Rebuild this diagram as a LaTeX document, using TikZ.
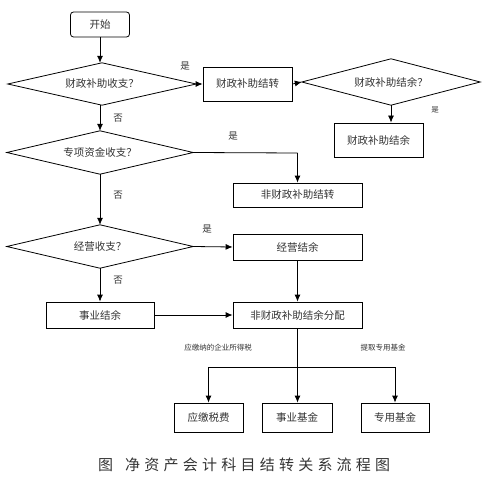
\documentclass[tikz,border=0pt]{standalone}
\usepackage{fontspec}
\setmainfont{Noto Sans CJK SC}
\usetikzlibrary{arrows.meta}
\begin{document}
\begin{tikzpicture}[x=1pt,y=-1pt,
  every node/.style={font=\fontsize{10.5}{12}\selectfont, text=black!80},
  proc/.style={draw, line width=0.8pt, inner sep=0pt, rectangle},
  decis/.style={inner sep=0pt, rectangle, append after command={
     \pgfextra{\draw[line width=0.8pt] (\tikzlastnode.north) -- (\tikzlastnode.east) -- (\tikzlastnode.south) -- (\tikzlastnode.west) -- cycle;}}},
  lbl/.style={font=\fontsize{9.5}{11}\selectfont},
  small/.style={font=\fontsize{7.5}{9}\selectfont},
  conn/.style={line width=0.8pt, -{Latex[length=7pt,width=6pt]}},
  line/.style={line width=0.8pt}]
\useasboundingbox (0,0) rectangle (500,492);
\node[proc, rounded corners=3pt, minimum width=59pt, minimum height=25pt] (start) at (100,24.5) {开始};
\node[decis, minimum width=188pt, minimum height=42pt] (d1) at (102,84) {财政补助收支？};
\node[proc, minimum width=89pt, minimum height=34pt] (b1) at (247.5,84) {财政补助结转};
\node[decis, minimum width=178pt, minimum height=46pt] (d4) at (391,82) {财政补助结余？};
\node[proc, minimum width=89pt, minimum height=34pt] (b2) at (378.5,140) {财政补助结余};
\node[decis, minimum width=186pt, minimum height=43pt] (d2) at (100,152.5) {专项资金收支？};
\node[proc, minimum width=129pt, minimum height=24pt] (b3) at (297.5,195) {非财政补助结转};
\node[decis, minimum width=186pt, minimum height=43pt] (d3) at (100,246.5) {经营收支？};
\node[proc, minimum width=129pt, minimum height=26pt] (b4) at (297.5,247) {经营结余};
\node[proc, minimum width=108pt, minimum height=26pt] (b5) at (100,315) {事业结余};
\node[proc, minimum width=129pt, minimum height=26pt] (b6) at (297.5,315) {非财政补助结余分配};
\node[proc, minimum width=69pt, minimum height=29pt] (f1) at (208.5,417.5) {应缴税费};
\node[proc, minimum width=70pt, minimum height=29pt] (f2) at (297,417.5) {事业基金};
\node[proc, minimum width=68pt, minimum height=29pt] (f3) at (395,417.5) {专用基金};
\coordinate (j1) at (297.5,153);
\coordinate (br) at (297.5,367);
% connectors
\draw[conn] (start.south) -- (start.south |- d1.north);
\draw[conn] (d1.east) -- (b1.west);
\draw[conn] (b1.east) -- (d4.west);
\draw[conn] (d4.south) -- (d4.south |- b2.north);
\draw[conn] (start.south |- d1.south) -- (start.south |- d2.north);
\draw[line] (d2.east) -- (j1);
\draw[conn] (j1) -- (b3.north);
\draw[conn] (start.south |- d2.south) -- (start.south |- d3.north);
\draw[conn] (d3.east) -- (b4.west);
\draw[conn] (start.south |- d3.south) -- (b5.north);
\draw[conn] (b4.south) -- (b6.north);
\draw[conn] (b5.east) -- (b6.west);
\draw[line] (b6.south) -- (br);
\draw[conn] (br) -| (f1.north);
\draw[conn] (br) -| (f3.north);
\draw[conn] (br) -- (br |- f2.north);
% labels
\node[lbl] (l1) at (185,66) {是};
\node[lbl] (l2) at (118,118) {否};
\node[small] (l3) at (435,110) {是};
\node[lbl] (l4) at (233,136) {是};
\node[lbl] (l5) at (118,195) {否};
\node[lbl] (l6) at (207,229) {是};
\node[lbl] (l7) at (118,280) {否};
\node[small] (l8) at (218,348) {应缴纳的企业所得税};
\node[small] (l9) at (383,348) {提取专用基金};
% caption
\node[font=\fontsize{15}{17}\selectfont, inner sep=0pt] (cap1) at (105.5,465) {图};
\node[font=\fontsize{15}{17}\selectfont, inner sep=0pt, anchor=west] (cap2) at (125,465) {\makebox[265pt][s]{净\hfill 资\hfill 产\hfill 会\hfill 计\hfill 科\hfill 目\hfill 结\hfill 转\hfill 关\hfill 系\hfill 流\hfill 程\hfill 图}};
\end{tikzpicture}
\end{document}
